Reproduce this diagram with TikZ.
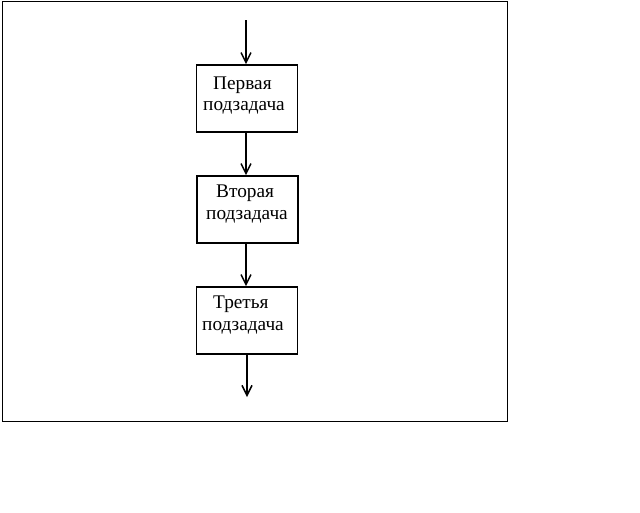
\documentclass[tikz,border=0pt]{standalone}
\usepackage{fontspec}
\setmainfont{Liberation Serif}
\usetikzlibrary{arrows.meta}
\begin{document}
\begin{tikzpicture}[x=1pt,y=-1pt,
  box/.style={draw,line width=1.6pt,minimum width=101pt,minimum height=67pt,inner sep=0pt},
  lbl/.style={anchor=base west,inner sep=0pt,font=\fontsize{19.3}{22}\selectfont},
  arr/.style={line width=1.5pt,-{Straight Barb[length=10pt,width=10pt,line width=1.5pt]}}]
\useasboundingbox (0,0) rectangle (640,512);
\draw[line width=1pt] (2,1) rectangle (507,421);
\node[box] (b1) at (247,98.5) {};
\node[box] (b2) at (247.5,209.5) {};
\node[box] (b3) at (247,320.5) {};
\node[lbl] (t1a) at (213,89) {Первая};
\node[lbl] (t1b) at (203,110) {подзадача};
\node[lbl] (t2a) at (216,197) {Вторая};
\node[lbl] (t2b) at (206,219) {подзадача};
\node[lbl] (t3a) at (213,308) {Третья};
\node[lbl] (t3b) at (202,330) {подзадача};
\coordinate (in) at (246,20);
\coordinate (out) at (247,397);
\draw[arr] (in) -- (b1.north -| in);
\draw[arr] (b1.south -| in) -- (b2.north -| in);
\draw[arr] (b2.south -| in) -- (b3.north -| in);
\draw[arr] (b3.south -| out) -- (out);
\end{tikzpicture}
\end{document}
